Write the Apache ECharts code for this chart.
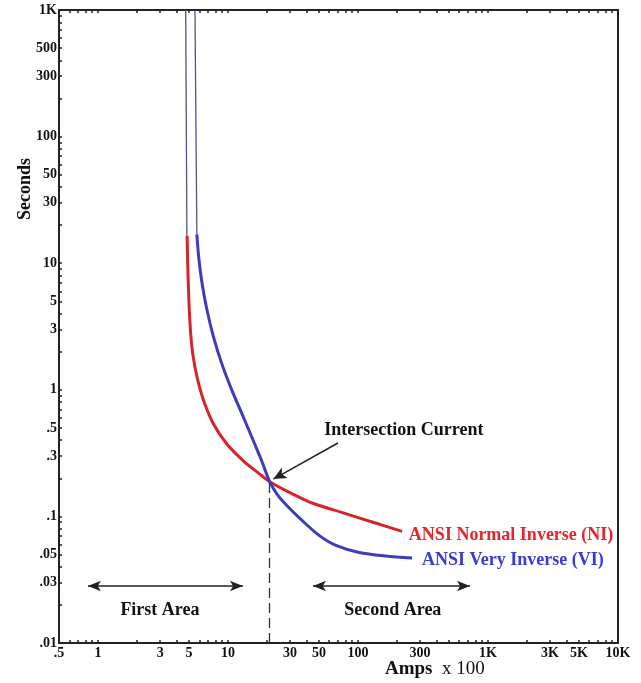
<!DOCTYPE html>
<html><head><meta charset="utf-8">
<script src="https://cdn.jsdelivr.net/npm/echarts@6/dist/echarts.min.js"></script>
<style>html,body{margin:0;padding:0;background:#fff}#c{width:641px;height:683px}</style>
</head><body><div id="c"></div>
<script>
// Tick labels
const xTickValues = [0.5, 1, 3, 5, 10, 30, 50, 100, 300, 1000, 3000, 5000, 10000];
const xTickLabels = ['.5', '1', '3', '5', '10', '30', '50', '100', '300', '1K', '3K', '5K', '10K'];
const yTickValues = [0.01, 0.03, 0.05, 0.1, 0.3, 0.5, 1, 3, 5, 10, 30, 50, 100, 300, 500, 1000];
const yTickLabels = ['.01', '.03', '.05', '.1', '.3', '.5', '1', '3', '5', '10', '30', '50', '100', '300', '500', '1K'];

// ANSI Normal Inverse (NI) curve  (Amps x100, Seconds)
const niAmps    = [4.84, 4.89, 4.98, 5.13, 5.34, 5.77, 6.48, 7.72, 9.78, 13.1, 17.6, 20.9, 31.5, 44.8, 75.9, 136, 218];
const niSeconds = [16.4, 10.0, 5.46, 2.97, 1.94, 1.26, 0.824, 0.537, 0.373, 0.275, 0.215, 0.188, 0.150, 0.127, 0.107, 0.0887, 0.0762];
// ANSI Very Inverse (VI) curve
const viAmps    = [5.75, 5.93, 6.30, 6.88, 7.72, 8.94, 10.7, 13.1, 15.9, 18.3, 20.9, 24.0, 28.3, 37.6, 50.4, 67.6, 102, 163, 260];
const viSeconds = [16.9, 11.4, 6.97, 4.27, 2.62, 1.61, 0.99, 0.610, 0.380, 0.268, 0.188, 0.148, 0.122, 0.0916, 0.0705, 0.059, 0.0518, 0.0486, 0.0469];
// Thin asymptote segments above the curves
const niAsymAmps = [4.72, 4.82];
const niAsymSeconds = [1000, 16.4];
const viAsymAmps = [5.56, 5.75];
const viAsymSeconds = [1000, 16.9];

// Intersection
const intersectionAmps = 20.9;
const intersectionSeconds = 0.188;

const zip = (a, b) => a.map((v, i) => [v, b[i]]);
function minorTicks(lo, hi) {
  const out = [];
  for (let e = -3; e <= 5; e++) for (let m = 1; m <= 9; m++) {
    const v = +(m * Math.pow(10, e)).toPrecision(6);
    if (v >= lo * 0.9999 && v <= hi * 1.0001) out.push(v);
  }
  return out;
}
function labelFor(vals, labels) {
  return function (v) {
    for (let i = 0; i < vals.length; i++) if (Math.abs(Math.log10(v) - Math.log10(vals[i])) < 1e-4) return labels[i];
    return '';
  };
}
const serif = '"Liberation Serif", "Times New Roman", serif';
const RED = '#d4252c', BLUE = '#3c3cbd';

const chart = echarts.init(document.getElementById('c'), null, {renderer: 'canvas'});
const tickStyle = {show: true, inside: true, length: 3, lineStyle: {color: '#222', width: 1.5}};
chart.setOption({
  animation: false,
  backgroundColor: '#fff',
  grid: {left: 59, right: 23, top: 10, bottom: 40, containLabel: false, outerBoundsMode: 'none'},
  xAxis: [{
    type: 'log', logBase: 10, min: 0.5, max: 10000, position: 'bottom',
    axisLine: {show: true, lineStyle: {color: '#222', width: 2}},
    axisTick: Object.assign({}, tickStyle, {customValues: minorTicks(0.5, 10000)}),
    axisLabel: {show: true, customValues: xTickValues, formatter: labelFor(xTickValues, xTickLabels),
      fontFamily: serif, fontWeight: 'bold', fontSize: 14, color: '#111', margin: 3},
    splitLine: {show: false}, minorTick: {show: false}
  }, {
    type: 'log', logBase: 10, min: 0.5, max: 10000, position: 'top',
    axisLine: {show: true, lineStyle: {color: '#222', width: 2}},
    axisTick: Object.assign({}, tickStyle, {customValues: minorTicks(0.5, 10000)}),
    axisLabel: {show: false}, splitLine: {show: false}
  }],
  yAxis: [{
    type: 'log', logBase: 10, min: 0.01, max: 1000, position: 'left',
    axisLine: {show: true, lineStyle: {color: '#222', width: 2}},
    axisTick: Object.assign({}, tickStyle, {customValues: minorTicks(0.01, 1000)}),
    axisLabel: {show: true, customValues: yTickValues, formatter: labelFor(yTickValues, yTickLabels),
      fontFamily: serif, fontWeight: 'bold', fontSize: 14, color: '#111', margin: 2},
    splitLine: {show: false}
  }, {
    type: 'log', logBase: 10, min: 0.01, max: 1000, position: 'right',
    axisLine: {show: true, lineStyle: {color: '#222', width: 2}},
    axisTick: {show: false}, axisLabel: {show: false}, splitLine: {show: false}
  }],
  graphic: [{
    type: 'text', left: 385, top: 660,
    style: {
      text: '{b|Amps}{r|  x 100}',
      rich: {
        b: {fontFamily: serif, fontWeight: 'bold', fontSize: 19, fill: '#111'},
        r: {fontFamily: serif, fontSize: 19, fill: '#111'}
      }
    }
  }, {
    type: 'text', x: 25, y: 189, rotation: Math.PI / 2,
    style: {
      text: 'Seconds', fontFamily: serif, fontWeight: 'bold', fontSize: 18, fill: '#111',
      align: 'center', verticalAlign: 'middle'
    }
  }],
  series: [
    {type: 'line', name: 'NI asymptote', data: zip(niAsymAmps, niAsymSeconds), showSymbol: false,
      lineStyle: {color: '#50568c', width: 1.3}, silent: true},
    {type: 'line', name: 'VI asymptote', data: zip(viAsymAmps, viAsymSeconds), showSymbol: false,
      lineStyle: {color: '#50568c', width: 1.3}, silent: true},
    {type: 'line', name: 'ANSI Normal Inverse (NI)', data: zip(niAmps, niSeconds), showSymbol: false,
      smooth: 0.3, lineStyle: {color: RED, width: 3}},
    {type: 'line', name: 'ANSI Very Inverse (VI)', data: zip(viAmps, viSeconds), showSymbol: false,
      smooth: 0.3, lineStyle: {color: BLUE, width: 3}},
    {type: 'line', name: 'annotations', data: [], silent: true,
      markLine: {
        silent: true, animation: false, label: {show: false},
        data: [
          [{coord: [intersectionAmps, 0.01], symbol: 'none', lineStyle: {color: '#333', width: 1.3, type: [10, 5]}},
           {coord: [intersectionAmps, intersectionSeconds], symbol: 'none'}],
          [{coord: [70, 0.38], symbol: 'none', lineStyle: {color: '#222', width: 1.5, type: 'solid'}},
           {coord: [22.3, 0.197], symbol: 'arrow', symbolSize: [9, 13]}],
          [{coord: [0.835, 0.0282], symbol: 'arrow', symbolSize: [8, 13], lineStyle: {color: '#222', width: 1.5, type: 'solid'}},
           {coord: [13.0, 0.0282], symbol: 'arrow', symbolSize: [8, 13]}],
          [{coord: [45, 0.0282], symbol: 'arrow', symbolSize: [8, 13], lineStyle: {color: '#222', width: 1.5, type: 'solid'}},
           {coord: [726, 0.0282], symbol: 'arrow', symbolSize: [8, 13]}]
        ]
      },
      markPoint: {
        silent: true, animation: false, symbol: 'circle', symbolSize: 0,
        label: {show: true, position: 'right', distance: 0, fontFamily: serif, fontWeight: 'bold', fontSize: 18},
        data: [
          {coord: [55, 0.48], label: {formatter: 'Intersection Current', color: '#111'}},
          {coord: [246, 0.0713], label: {formatter: 'ANSI Normal Inverse (NI)', color: '#e8232a'}},
          {coord: [310, 0.0453], label: {formatter: 'ANSI Very Inverse (VI)', color: '#3a3ad6'}},
          {coord: [2.99, 0.0182], label: {formatter: 'First Area', position: 'inside', color: '#111'}},
          {coord: [185, 0.0182], label: {formatter: 'Second Area', position: 'inside', color: '#111'}}
        ]
      }
    }
  ]
});
</script></body></html>
